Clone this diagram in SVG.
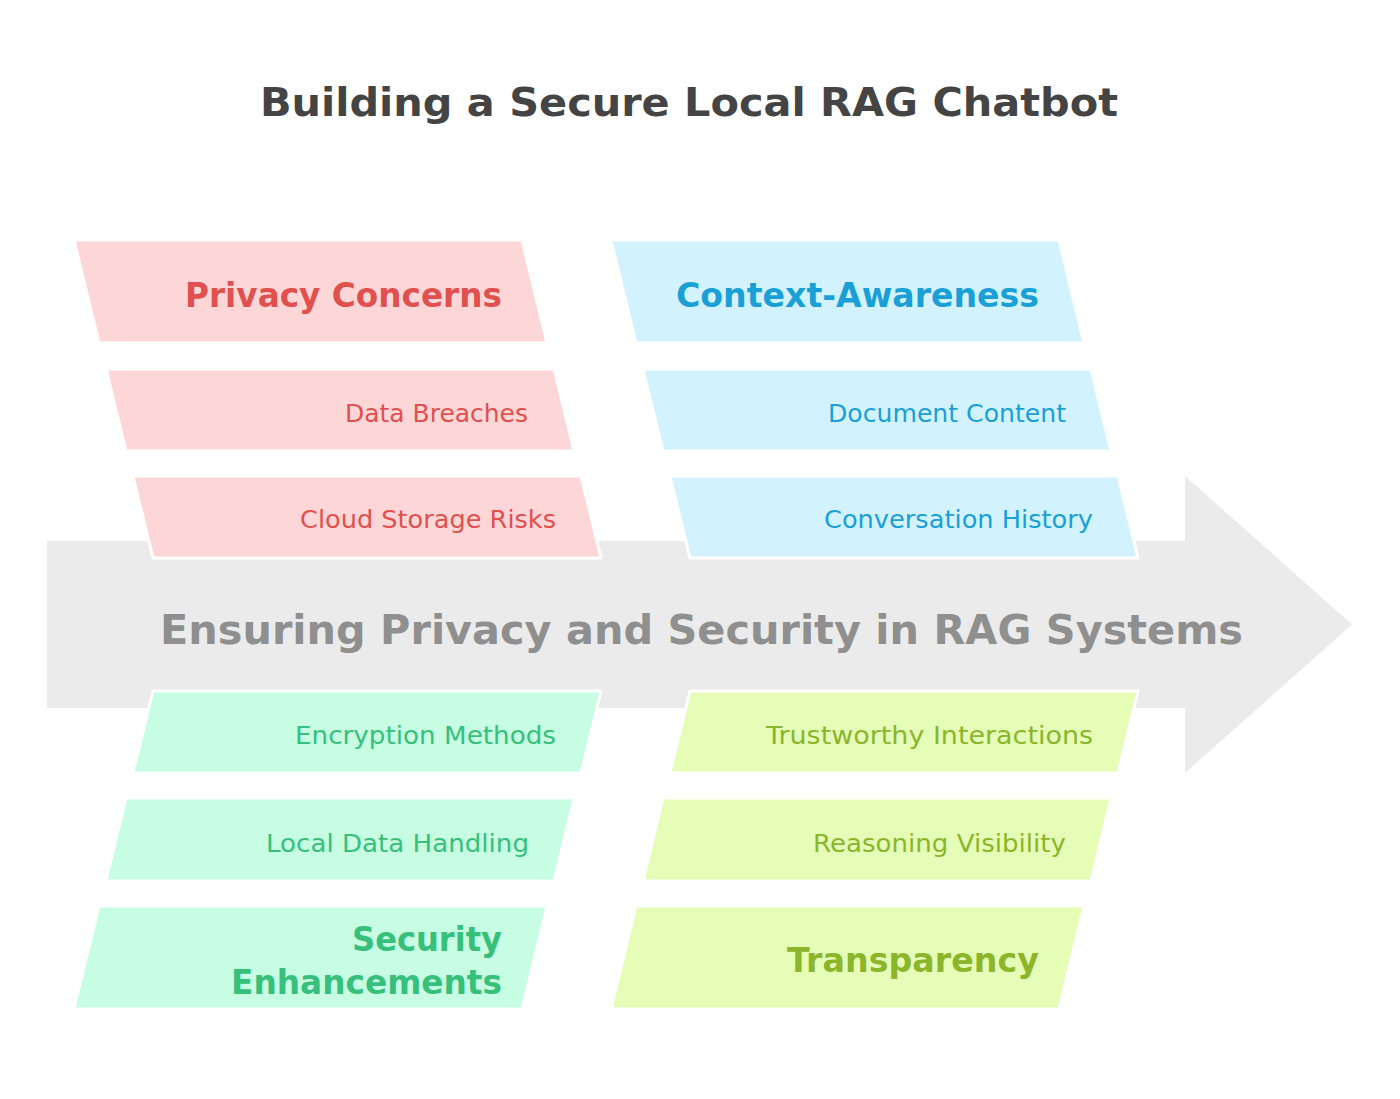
<svg xmlns="http://www.w3.org/2000/svg" width="1400" height="1099" viewBox="0 0 1400 1099">
<style>
.title{font-family:"DejaVu Sans","Liberation Sans",sans-serif;font-weight:bold;font-size:39px;fill:#444444}
.center{font-family:"DejaVu Sans","Liberation Sans",sans-serif;font-weight:bold;font-size:40px;fill:#8f8f8f}
.hd{font-family:"DejaVu Sans","Liberation Sans",sans-serif;font-weight:bold;font-size:33px}
.it{font-family:"DejaVu Sans","Liberation Sans",sans-serif;font-size:25px}
.shape{stroke:#ffffff;stroke-width:3;stroke-linejoin:round}
.red .shape{fill:#fdd7d7}.red text{fill:#e0504f}
.blue .shape{fill:#d2f3fd}.blue text{fill:#1a9fd6}
.green .shape{fill:#c7fde3}.green text{fill:#36c07b}
.lime .shape{fill:#e6fdb7}.lime text{fill:#8bb52b}
</style>
<rect width="1400" height="1099" fill="#ffffff"/>
<text class="title" x="260" y="116" textLength="858" lengthAdjust="spacingAndGlyphs">Building a Secure Local RAG Chatbot</text>
<g id="spine">
<polygon points="47,541 1185,541 1185,476 1352,624.5 1185,773 1185,708 47,708" fill="#ebebeb"/>
<text class="center" x="160" y="644" textLength="1083" lengthAdjust="spacingAndGlyphs">Ensuring Privacy and Security in RAG Systems</text>
</g>
<g id="connectors"></g>
<g id="privacy-concerns" class="red">
<polygon class="shape" points="74,240 522,240 547,343 99,343"/>
<text class="hd" x="185" y="307" textLength="317" lengthAdjust="spacingAndGlyphs">Privacy Concerns</text>
</g>
<g id="data-breaches" class="red">
<polygon class="shape" points="106,369 554,369 574,451 126,451"/>
<text class="it" x="345" y="422" textLength="183" lengthAdjust="spacingAndGlyphs">Data Breaches</text>
</g>
<g id="cloud-storage-risks" class="red">
<polygon class="shape" points="133,476 581,476 601,558 153,558"/>
<text class="it" x="300" y="528" textLength="256" lengthAdjust="spacingAndGlyphs">Cloud Storage Risks</text>
</g>
<g id="context-awareness" class="blue">
<polygon class="shape" points="611,240 1059,240 1084,343 636,343"/>
<text class="hd" x="676" y="307" textLength="363" lengthAdjust="spacingAndGlyphs">Context-Awareness</text>
</g>
<g id="document-content" class="blue">
<polygon class="shape" points="643,369 1091,369 1111,451 663,451"/>
<text class="it" x="828" y="422" textLength="238" lengthAdjust="spacingAndGlyphs">Document Content</text>
</g>
<g id="conversation-history" class="blue">
<polygon class="shape" points="670,476 1118,476 1138,558 690,558"/>
<text class="it" x="824" y="528" textLength="269" lengthAdjust="spacingAndGlyphs">Conversation History</text>
</g>
<g id="encryption-methods" class="green">
<polygon class="shape" points="153,691 601,691 581,773 133,773"/>
<text class="it" x="295" y="744" textLength="261" lengthAdjust="spacingAndGlyphs">Encryption Methods</text>
</g>
<g id="local-data-handling" class="green">
<polygon class="shape" points="126,798 574,798 554,881 106,881"/>
<text class="it" x="266" y="852" textLength="263" lengthAdjust="spacingAndGlyphs">Local Data Handling</text>
</g>
<g id="security-enhancements" class="green">
<polygon class="shape" points="99,906 547,906 522,1009 74,1009"/>
<text class="hd" x="352" y="951" textLength="150" lengthAdjust="spacingAndGlyphs">Security</text>
<text class="hd" x="231" y="994" textLength="271" lengthAdjust="spacingAndGlyphs">Enhancements</text>
</g>
<g id="trustworthy-interactions" class="lime">
<polygon class="shape" points="690,691 1138,691 1118,773 670,773"/>
<text class="it" x="766" y="744" textLength="327" lengthAdjust="spacingAndGlyphs">Trustworthy Interactions</text>
</g>
<g id="reasoning-visibility" class="lime">
<polygon class="shape" points="663,798 1111,798 1091,881 643,881"/>
<text class="it" x="813" y="852" textLength="253" lengthAdjust="spacingAndGlyphs">Reasoning Visibility</text>
</g>
<g id="transparency" class="lime">
<polygon class="shape" points="636,906 1084,906 1059,1009 611,1009"/>
<text class="hd" x="787" y="972" textLength="252" lengthAdjust="spacingAndGlyphs">Transparency</text>
</g>
</svg>
